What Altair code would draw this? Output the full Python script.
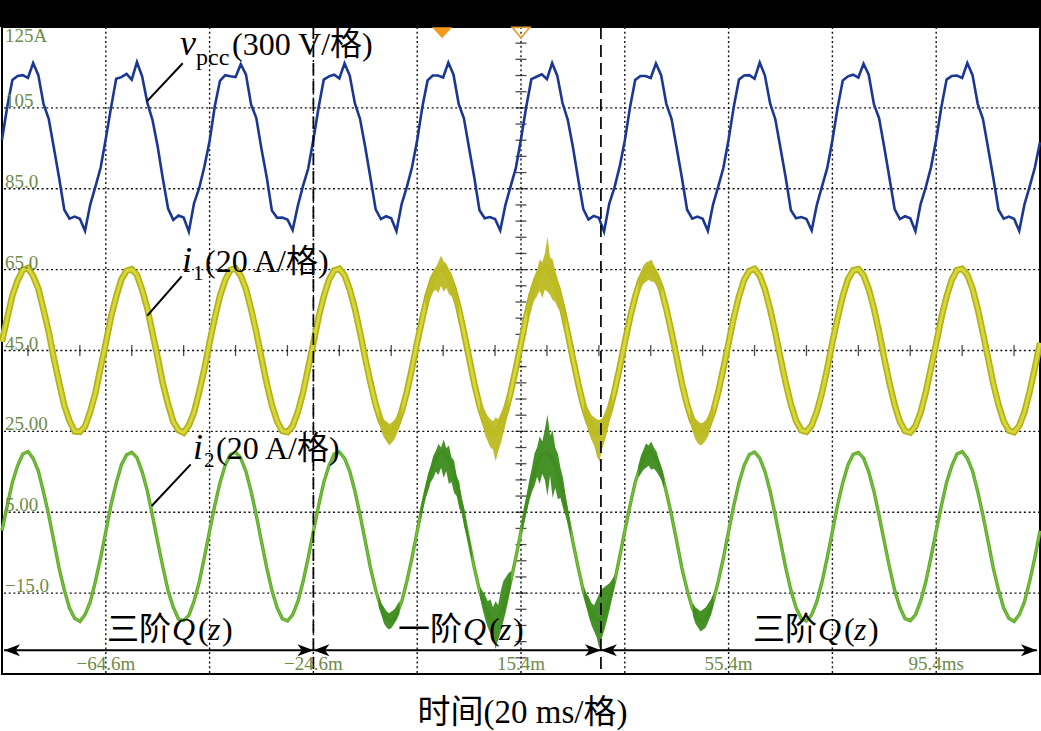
import altair as alt
import pandas as pd

# ---------------- time base (ms), one sample per ms ----------------
T_START = -84.6
T_END = 115.4

# ---------------- traces (scope units) ----------------
VPCC = [
    97.1, 105.2, 111.9, 112.9, 113.1, 112.4, 116.1, 113.1, 106.0, 102.3, 95.1, 87.7, 79.8, 77.6, 78.1, 77.6, 74.6, 81.1, 85.5, 90.2,
    97.4, 105.0, 112.2, 112.6, 113.4, 112.0, 116.3, 112.8, 106.3, 102.0, 95.4, 87.4, 80.1, 77.3, 78.4, 77.9, 74.4, 81.4, 85.2, 90.5,
    96.8, 105.4, 111.7, 113.1, 112.8, 112.6, 115.8, 113.3, 105.8, 102.5, 94.8, 87.9, 79.6, 77.8, 77.9, 77.4, 74.8, 80.8, 85.7, 90.0,
    97.2, 105.1, 112.0, 112.8, 113.2, 112.3, 116.0, 113.0, 106.1, 102.2, 95.2, 87.6, 79.9, 77.5, 78.2, 77.7, 74.5, 81.2, 85.4, 90.3,
    97.0, 105.3, 111.8, 113.0, 113.0, 112.5, 116.2, 113.2, 105.9, 102.4, 95.0, 87.8, 79.7, 77.7, 78.0, 77.5, 74.7, 81.0, 85.6, 90.1,
    97.3, 105.2, 112.1, 112.7, 113.3, 112.1, 116.1, 112.9, 106.2, 102.1, 95.3, 87.5, 80.0, 77.4, 78.3, 77.8, 74.4, 81.3, 85.3, 90.4,
    96.9, 105.1, 111.9, 112.9, 112.9, 112.4, 116.0, 113.1, 106.0, 102.3, 95.1, 87.7, 79.8, 77.6, 78.1, 77.6, 74.6, 81.1, 85.5, 90.2,
    97.2, 105.3, 112.0, 113.0, 113.1, 112.2, 116.2, 113.0, 106.1, 102.2, 95.0, 87.8, 79.7, 77.7, 78.0, 77.5, 74.7, 81.0, 85.6, 90.1,
    97.0, 105.0, 111.8, 112.8, 113.2, 112.5, 115.9, 113.2, 105.9, 102.4, 95.2, 87.6, 79.9, 77.5, 78.2, 77.7, 74.5, 81.2, 85.4, 90.3,
    97.1, 105.2, 112.0, 112.9, 113.0, 112.4, 116.1, 113.1, 106.0, 102.3, 95.1, 87.7, 79.8, 77.6, 78.1, 77.6, 74.6, 81.1, 85.5, 90.2,
    96.5,
]

I1 = [
    47.2, 53.0, 58.6, 62.3, 64.9, 65.4, 63.4, 60.3, 55.1, 49.6, 43.0, 37.1, 31.4, 27.6, 25.0, 24.9, 26.2, 29.9, 34.5, 40.8,
    46.8, 53.3, 58.3, 62.6, 64.7, 65.1, 63.7, 60.0, 55.4, 49.3, 43.2, 36.8, 31.7, 27.4, 25.3, 24.7, 26.5, 29.7, 34.8, 40.5,
    47.0, 53.1, 58.5, 62.4, 64.9, 65.3, 63.5, 60.2, 55.2, 49.5, 43.1, 36.9, 31.5, 27.5, 25.1, 24.8, 26.3, 29.8, 34.6, 40.7,
    46.9, 53.2, 58.4, 62.5, 64.8, 65.2, 63.6, 60.1, 55.3, 49.4, 43.0, 37.0, 31.6, 27.5, 25.2, 24.8, 26.4, 29.9, 34.7, 40.6,
    47.1, 53.0, 58.5, 62.7, 65.0, 65.4, 63.8, 60.3, 55.4, 49.5, 43.2, 36.8, 31.4, 27.3, 25.0, 24.6, 26.2, 29.7, 34.6, 40.5,
    46.8, 53.2, 58.6, 62.6, 65.1, 65.5, 63.7, 60.4, 55.2, 49.3, 43.0, 36.9, 31.5, 27.4, 25.1, 24.7, 26.3, 29.9, 34.8, 40.7,
    47.0, 53.1, 58.3, 62.4, 64.9, 65.3, 63.6, 60.2, 55.3, 49.5, 43.2, 36.8, 31.6, 27.5, 25.2, 24.8, 26.4, 29.8, 34.7, 40.6,
    46.9, 53.2, 58.4, 62.5, 64.7, 65.2, 63.5, 60.1, 55.2, 49.4, 43.1, 37.0, 31.7, 27.6, 25.3, 24.9, 26.5, 29.9, 34.6, 40.5,
    47.0, 53.0, 58.5, 62.6, 64.8, 65.1, 63.6, 60.2, 55.4, 49.5, 43.0, 36.9, 31.5, 27.4, 25.1, 24.7, 26.3, 29.7, 34.7, 40.7,
    46.8, 53.1, 58.4, 62.5, 64.9, 65.2, 63.7, 60.3, 55.3, 49.3, 43.1, 36.8, 31.6, 27.5, 25.2, 24.8, 26.4, 29.8, 34.8, 40.6,
    46.9,
]

I2 = [
    0.5, 6.6, 12.4, 16.5, 19.4, 20.0, 18.3, 15.2, 10.0, 4.3, -2.2, -8.8, -14.2, -18.7, -21.2, -22.0, -20.3, -17.2, -12.1, -6.3,
    0.2, 6.8, 12.2, 16.7, 19.2, 19.8, 18.5, 15.0, 10.3, 4.1, -2.4, -8.6, -14.4, -18.5, -21.4, -21.8, -20.5, -17.0, -12.3, -6.1,
    0.4, 6.7, 12.3, 16.6, 19.3, 19.9, 18.4, 15.1, 10.1, 4.2, -2.3, -8.7, -14.3, -18.6, -21.3, -21.9, -20.4, -17.1, -12.2, -6.2,
    0.3, 6.6, 12.4, 16.5, 19.4, 19.9, 18.3, 15.1, 10.2, 4.3, -2.2, -8.8, -14.2, -18.6, -21.3, -22.0, -20.4, -17.2, -12.1, -6.2,
    0.3, 6.7, 12.3, 16.6, 19.3, 19.9, 18.4, 15.1, 10.2, 4.2, -2.3, -8.7, -14.3, -18.6, -21.3, -21.9, -20.4, -17.1, -12.2, -6.2,
    0.2, 6.8, 12.2, 16.7, 19.2, 19.8, 18.5, 15.0, 10.3, 4.1, -2.4, -8.6, -14.4, -18.5, -21.4, -21.8, -20.5, -17.0, -12.3, -6.1,
    0.4, 6.6, 12.4, 16.5, 19.4, 20.0, 18.3, 15.2, 10.0, 4.3, -2.2, -8.8, -14.2, -18.7, -21.2, -22.0, -20.3, -17.2, -12.1, -6.3,
    0.3, 6.7, 12.3, 16.6, 19.3, 19.9, 18.4, 15.1, 10.2, 4.2, -2.3, -8.7, -14.3, -18.6, -21.3, -21.9, -20.4, -17.1, -12.2, -6.2,
    0.2, 6.8, 12.3, 16.7, 19.3, 19.8, 18.4, 15.0, 10.2, 4.1, -2.3, -8.6, -14.3, -18.5, -21.3, -21.8, -20.4, -17.0, -12.2, -6.1,
    0.4, 6.6, 12.4, 16.5, 19.4, 20.0, 18.3, 15.2, 10.1, 4.3, -2.2, -8.8, -14.2, -18.7, -21.2, -22.0, -20.3, -17.2, -12.1, -6.3,
    0.4,
]

T = [round(T_START + k, 1) for k in range(len(VPCC))]

# ---------------- noise envelopes (lo / hi) ----------------
I2_NZ_T = [
    [-12, -11.5, -11, -10.5, -10, -9.5, -9, -8.5, -8],
    [-4, -3.5, -3, -2.5, -2, -1.5, -1, -0.5, 0, 0.5, 1, 1.5, 2, 2.5, 3, 3.5, 4, 4.5, 5, 5.5, 6],
    [7.5, 8, 8.5, 9, 9.5, 10, 10.5, 11, 11.5, 12, 12.5, 13, 13.5],
    [15.5, 16, 16.5, 17, 17.5, 18, 18.5, 19, 19.5, 20, 20.5, 21, 21.5, 22, 22.5, 23, 23.5, 24, 24.5, 25],
    [27.5, 28, 28.5, 29, 29.5, 30, 30.5, 31, 31.5, 32, 32.5, 33, 33.5],
    [38, 38.5, 39, 39.5, 40, 40.5, 41, 41.5, 42, 42.5, 43],
    [48.5, 49, 49.5, 50, 50.5, 51, 51.5, 52, 52.5],
]
I2_NZ_HI = [
    [-15.8, -17.5, -18.5, -19.5, -20.0, -19.5, -19.0, -18.0, -16.8],
    [5.2, 8.6, 11.5, 14.6, 16.5, 19.0, 20.2, 21.9, 21.0, 23.0, 20.8, 21.5, 18.6, 17.8, 14.0, 12.5, 8.2, 5.8, 1.5, -1.8, -5.4],
    [-13.5, -14.5, -15.5, -17.0, -16.5, -18.5, -17.0, -18.0, -14.5, -12.0, -11.0, -10.0, -9.5],
    [2.5, 6.0, 9.5, 13.0, 16.0, 19.5, 21.0, 23.8, 22.5, 25.5, 29.2, 24.0, 25.2, 21.0, 19.5, 16.0, 13.5, 9.2, 5.5, 1.5],
    [-13.5, -15.0, -16.0, -17.5, -18.0, -16.5, -15.0, -14.0, -13.5, -13.0, -12.5, -11.5, -10.5],
    [16.5, 19.0, 20.5, 22.0, 21.5, 22.5, 21.0, 20.0, 18.0, 16.0, 13.5],
    [-17.5, -18.5, -19.0, -19.5, -19.0, -18.5, -17.5, -16.5, -15.0],
]
I2_NZ_LO = [
    [-18.5, -20.5, -22.5, -23.5, -24.0, -23.5, -22.5, -21.5, -20.0],
    [3.0, 5.8, 8.5, 10.2, 12.4, 13.5, 15.0, 14.2, 16.0, 13.5, 15.2, 12.0, 12.5, 9.8, 9.0, 6.0, 4.6, 1.2, -1.0, -4.2, -7.0],
    [-16.0, -19.0, -21.5, -23.5, -25.0, -26.0, -28.8, -26.5, -24.5, -22.0, -19.5, -16.5, -13.0],
    [-0.5, 2.5, 5.0, 7.8, 10.0, 11.5, 13.8, 12.0, 14.5, 13.0, 9.0, 14.0, 8.5, 11.0, 8.2, 8.5, 6.0, 4.0, 1.8, -1.0],
    [-16.0, -18.5, -21.0, -23.0, -24.5, -26.0, -28.8, -26.0, -24.0, -21.5, -19.0, -16.0, -13.0],
    [13.5, 14.5, 15.5, 16.0, 16.5, 15.5, 15.8, 15.0, 14.0, 12.8, 11.0],
    [-20.5, -22.5, -23.5, -24.5, -24.0, -23.5, -22.0, -20.5, -18.2],
]

I1_NZ_T = [
    [-12, -11.5, -11, -10.5, -10, -9.5, -9, -8.5, -8, -7.5],
    [-3, -2.5, -2, -1.5, -1, -0.5, 0, 0.5, 1, 1.5, 2, 2.5, 3, 3.5],
    [7.5, 8, 8.5, 9, 9.5, 10, 10.5, 11, 11.5, 12, 12.5, 13],
    [16.5, 17, 17.5, 18, 18.5, 19, 19.5, 20, 20.5, 21, 21.5, 22, 22.5, 23, 23.5, 24],
    [27.5, 28, 28.5, 29, 29.5, 30, 30.5, 31, 31.5, 32, 32.5, 33],
    [38, 38.5, 39, 39.5, 40, 40.5, 41, 41.5, 42, 42.5],
    [48, 48.5, 49, 49.5, 50, 50.5, 51, 51.5, 52, 52.5],
]
I1_NZ_HI = [
    [31.0, 29.2, 27.8, 27.5, 26.8, 27.2, 27.8, 28.6, 30.0, 32.0],
    [58.0, 61.0, 62.5, 64.8, 65.5, 67.0, 68.5, 67.0, 66.5, 65.2, 63.8, 61.5, 59.0, 56.2],
    [33.0, 31.5, 30.0, 28.8, 28.0, 27.5, 28.5, 28.0, 29.5, 31.0, 32.5, 34.5],
    [55.5, 58.5, 61.0, 63.5, 65.0, 67.5, 66.8, 69.0, 73.1, 68.0, 67.5, 64.8, 62.5, 59.5, 57.0, 53.5],
    [33.0, 31.5, 30.2, 29.0, 28.5, 28.0, 27.8, 28.2, 29.5, 31.0, 32.5, 34.5],
    [62.8, 64.5, 66.0, 66.8, 67.0, 67.5, 66.2, 65.0, 63.5, 61.5],
    [31.0, 29.5, 28.2, 27.5, 27.0, 27.2, 27.8, 28.8, 30.2, 32.0],
]
I1_NZ_LO = [
    [27.0, 25.0, 23.5, 22.5, 21.5, 22.2, 23.0, 24.5, 26.0, 28.5],
    [54.5, 56.5, 58.0, 59.5, 60.0, 59.2, 61.0, 59.5, 60.5, 59.0, 58.5, 57.0, 55.0, 53.0],
    [29.0, 26.5, 24.0, 22.5, 21.0, 20.5, 17.6, 20.0, 22.0, 24.5, 27.0, 30.0],
    [51.8, 54.0, 56.0, 57.5, 58.5, 59.8, 58.0, 60.0, 59.5, 58.8, 57.5, 57.0, 55.5, 54.5, 52.5, 50.2],
    [29.0, 26.8, 24.5, 22.8, 21.5, 19.0, 17.4, 20.5, 22.5, 24.8, 27.5, 30.0],
    [59.0, 60.5, 61.5, 62.0, 62.5, 62.0, 62.0, 61.0, 59.8, 58.0],
    [27.0, 24.8, 23.0, 22.0, 21.5, 22.0, 22.8, 24.0, 26.0, 28.2],
]

# ---------------- grid, cursors, labels ----------------
HGRID = [105, 85, 65, 45, 25, 5, -15]
VGRID = [-64.6, -44.6, -24.6, -4.6, 15.4, 35.4, 55.4, 75.4, 95.4]
XTICK_T = [round(T_START + 5 * j, 1) for j in range(1, 40)]
YTICK_V = [-35 + 4 * j for j in range(1, 40)]
CURSORS = [-24.6, 30.8]
MARK_FILLED_T = [0.2]
MARK_OPEN_T = [15.4]
MARK_V = 123.6

YLAB_TEXT = ["125A", "105", "85.0", "65.0", "45.0", "25.00", "5.00", "\u221215.0"]
YLAB_V = [121.0, 105, 85, 65, 45, 25, 5, -15]
XLAB_TEXT = ["\u221264.6m", "\u221224.6m", "15.4m", "55.4m", "95.4ms"]
XLAB_T = [-64.6, -24.6, 15.4, 55.4, 95.4]
XLAB_V = -34.0

ARROW_V = -29.1
ARROW_SPAN = [-84.2, 114.8]
ARROW_RIGHT_T = [-24.6, 30.8, 114.8]
ARROW_LEFT_T = [-84.2, -24.6, 30.8]

LEAD_T1 = [-56.72, -56.60, -55.76]
LEAD_V1 = [106.56, 53.64, 6.56]
LEAD_T2 = [-49.78, -49.98, -48.24]
LEAD_V2 = [116.04, 63.35, 16.85]

QZ_T = [-64.37, -8.30, 60.10]
QZ_V = -26.6
QZ_PREFIX = ["三阶", "一阶", "三阶"]

SERIF = "Liberation Serif, Noto Sans CJK SC"
LABEL_COLOR = "#6e8b48"

XS = alt.Scale(domain=[T_START, T_END], nice=False, zero=False)
YS = alt.Scale(domain=[-35, 125], nice=False, zero=False)


def X(f):
    return alt.X(f, type="quantitative", scale=XS, axis=None)


def Y(f):
    return alt.Y(f, type="quantitative", scale=YS, axis=None)


def zones(ts, los, his):
    rows = []
    for z, (tt, ll, hh) in enumerate(zip(ts, los, his)):
        for a, b, c in zip(tt, ll, hh):
            rows.append({"zone": z, "t": a, "lo": b, "hi": c})
    return pd.DataFrame(rows)


layers = []

# black band above the screen
layers.append(
    alt.Chart(pd.DataFrame({"a": [0]})).mark_rect(color="black").encode(
        x=alt.value(-2), x2=alt.value(1039), y=alt.value(-27), y2=alt.value(0)
    )
)

# dotted graticule
layers.append(
    alt.Chart(pd.DataFrame({"v": HGRID})).mark_rule(color="#111", strokeWidth=1.4, strokeDash=[2, 2.7]).encode(y=Y("v"))
)
layers.append(
    alt.Chart(pd.DataFrame({"t": VGRID})).mark_rule(color="#111", strokeWidth=1.4, strokeDash=[2, 2.7]).encode(x=X("t"))
)
layers.append(
    alt.Chart(pd.DataFrame({"t": XTICK_T, "v": [45] * len(XTICK_T)})).mark_tick(
        orient="vertical", size=11, thickness=1.3, color="black"
    ).encode(x=X("t"), y=Y("v"))
)
layers.append(
    alt.Chart(pd.DataFrame({"t": [15.4] * len(YTICK_V), "v": YTICK_V})).mark_tick(
        orient="horizontal", size=11, thickness=1.3, color="black"
    ).encode(x=X("t"), y=Y("v"))
)

df = pd.DataFrame({"t": T, "vpcc": VPCC, "i1": I1, "i2": I2})

# i2 (green)
layers.append(alt.Chart(df).mark_line(color="#5ea82a", strokeWidth=3.4).encode(x=X("t"), y=Y("i2")))
layers.append(alt.Chart(df).mark_line(color="#76c03c", strokeWidth=1.4).encode(x=X("t"), y=Y("i2")))
layers.append(
    alt.Chart(zones(I2_NZ_T, I2_NZ_LO, I2_NZ_HI)).mark_area(color="#3d8b1d", opacity=0.95).encode(
        x=X("t"), y=Y("lo"), y2=alt.Y2("hi"), detail="zone:N"
    )
)

# i1 (yellow)
layers.append(alt.Chart(df).mark_line(color="#b3b21b", strokeWidth=6.5).encode(x=X("t"), y=Y("i1")))
layers.append(alt.Chart(df).mark_line(color="#d8d73a", strokeWidth=3).encode(x=X("t"), y=Y("i1")))
layers.append(
    alt.Chart(zones(I1_NZ_T, I1_NZ_LO, I1_NZ_HI)).mark_area(color="#bdbb22", opacity=0.95).encode(
        x=X("t"), y=Y("lo"), y2=alt.Y2("hi"), detail="zone:N"
    )
)

# vpcc (blue)
layers.append(alt.Chart(df).mark_line(color="#1a3893", strokeWidth=2.6).encode(x=X("t"), y=Y("vpcc")))

# cursors
layers.append(
    alt.Chart(pd.DataFrame({"t": CURSORS})).mark_rule(color="black", strokeWidth=1.7, strokeDash=[12, 6]).encode(x=X("t"))
)

# trigger markers on top
layers.append(
    alt.Chart(pd.DataFrame({"t": MARK_FILLED_T, "v": [MARK_V]})).mark_point(
        shape="M-1,-0.55L1,-0.55L0,0.55Z", size=400, filled=True, color="#f39a1d", opacity=1
    ).encode(x=X("t"), y=Y("v"))
)
layers.append(
    alt.Chart(pd.DataFrame({"t": MARK_OPEN_T, "v": [MARK_V]})).mark_point(
        shape="M-1,-0.6L1,-0.6L0,0.6Z", size=300, filled=False, color="#e9a03c", strokeWidth=1.8, opacity=1
    ).encode(x=X("t"), y=Y("v"))
)

# region arrows
layers.append(
    alt.Chart(pd.DataFrame({"t": [ARROW_SPAN[0]], "t2": [ARROW_SPAN[1]], "v": [ARROW_V]})).mark_rule(
        color="black", strokeWidth=2
    ).encode(x=X("t"), x2=alt.X2("t2"), y=Y("v"))
)
layers.append(
    alt.Chart(pd.DataFrame({"t": ARROW_RIGHT_T, "v": [ARROW_V] * 3})).mark_point(
        shape="M0,0L-2,-0.75L-1.45,0L-2,0.75Z", size=256, filled=True, color="black", opacity=1
    ).encode(x=X("t"), y=Y("v"))
)
layers.append(
    alt.Chart(pd.DataFrame({"t": ARROW_LEFT_T, "v": [ARROW_V] * 3})).mark_point(
        shape="M0,0L2,-0.75L1.45,0L2,0.75Z", size=256, filled=True, color="black", opacity=1
    ).encode(x=X("t"), y=Y("v"))
)

# scale labels
layers.append(
    alt.Chart(pd.DataFrame({"t": [T_START] * len(YLAB_V), "v": YLAB_V, "s": YLAB_TEXT})).mark_text(
        align="left", baseline="alphabetic", dx=3, dy=-1, font=SERIF, fontSize=19, color=LABEL_COLOR
    ).encode(x=X("t"), y=Y("v"), text="s:N")
)
layers.append(
    alt.Chart(pd.DataFrame({"t": XLAB_T, "v": [XLAB_V] * len(XLAB_T), "s": XLAB_TEXT})).mark_text(
        align="center", baseline="alphabetic", font=SERIF, fontSize=19, color=LABEL_COLOR
    ).encode(x=X("t"), y=Y("v"), text="s:N")
)

# leader lines
layers.append(
    alt.Chart(pd.DataFrame({"t": LEAD_T1, "v": LEAD_V1, "t2": LEAD_T2, "v2": LEAD_V2})).mark_rule(
        color="black", strokeWidth=2
    ).encode(x=X("t"), y=Y("v"), x2=alt.X2("t2"), y2=alt.Y2("v2"))
)


def piece(t, v, text, dx, dy, size, italic=False):
    props = dict(align="left", baseline="alphabetic", dx=dx, dy=dy, font=SERIF, fontSize=size, color="black")
    if italic:
        props["fontStyle"] = "italic"
    return alt.Chart(pd.DataFrame({"t": t, "v": v, "s": text})).mark_text(**props).encode(
        x=X("t"), y=Y("v"), text="s:N"
    )


# channel labels
layers.append(piece([-50.3], [118.1], ["v"], 0, 0, 36, True))
layers.append(piece([-50.3], [118.1], ["pcc"], 16, 10, 24))
layers.append(piece([-50.3], [118.1], ["(300 V/格)"], 52, 0, 32))

layers.append(piece([-49.9], [64.5], ["i"], 0, 0, 36, True))
layers.append(piece([-49.9], [64.5], ["1"], 11, 8, 21))
layers.append(piece([-49.9], [64.5], ["(20 A/格)"], 23, 0, 32))

layers.append(piece([-47.8], [18.1], ["i"], 0, 0, 36, True))
layers.append(piece([-47.8], [18.1], ["2"], 11, 8, 21))
layers.append(piece([-47.8], [18.1], ["(20 A/格)"], 23, 0, 32))

# region labels  三阶Q(z) / 一阶Q(z)
qv = [QZ_V] * len(QZ_T)
layers.append(piece(QZ_T, qv, QZ_PREFIX, 0, 0, 32))
layers.append(piece(QZ_T, qv, ["Q"] * 3, 65, 0, 32, True))
layers.append(piece(QZ_T, qv, ["("] * 3, 91, 0, 32))
layers.append(piece(QZ_T, qv, ["z"] * 3, 101, 0, 32, True))
layers.append(piece(QZ_T, qv, [")"] * 3, 115, 0, 32))

# axis title
layers.append(
    alt.Chart(pd.DataFrame({"t": [15.7], "v": [-47.1], "s": ["时间(20 ms/格)"]})).mark_text(
        align="center", baseline="alphabetic", font=SERIF, fontSize=33, color="black"
    ).encode(x=X("t"), y=Y("v"), text="s:N")
)

chart = (
    alt.layer(*layers)
    .properties(
        width=1038,
        height=647,
        padding={"left": 2, "top": 27, "right": 1, "bottom": 57},
        autosize=alt.AutoSizeParams(type="none"),
        background="white",
    )
    .configure_view(stroke="black", strokeWidth=2)
)

chart.save("out.html", embed_options={"renderer": "svg", "actions": False})
